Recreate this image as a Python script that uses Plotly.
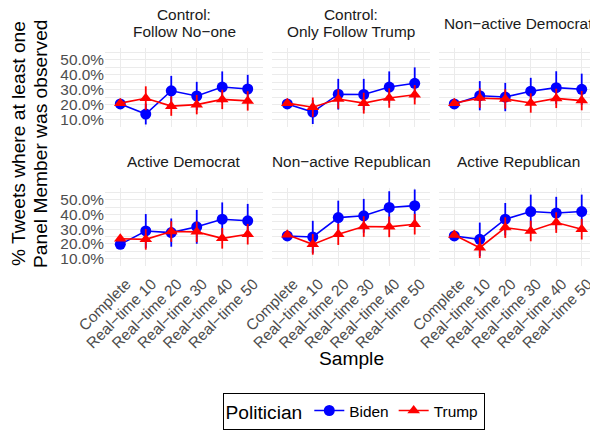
import plotly.graph_objects as go

# ---------------- data ----------------
samples = ["Complete", "Real−time 10", "Real−time 20", "Real−time 30", "Real−time 40", "Real−time 50"]
panels = [["Control:", "Follow No−one"], ["Control:", "Only Follow Trump"], ["Non−active Democrat"],
          ["Active Democrat"], ["Non−active Republican"], ["Active Republican"]]
y_title_lines = ["% Tweets where at least one", "Panel Member was observed"]
x_title = "Sample"

biden_followno = [0.205, 0.137, 0.293, 0.258, 0.318, 0.305]
biden_followno_err = [0, 0.07, 0.10, 0.095, 0.105, 0.095]
trump_followno = [0.21, 0.243, 0.19, 0.20, 0.235, 0.225]
trump_followno_err = [0, 0.08, 0.065, 0.065, 0.065, 0.065]

biden_onlytrump = [0.205, 0.15, 0.27, 0.268, 0.318, 0.343]
biden_onlytrump_err = [0, 0.08, 0.103, 0.105, 0.105, 0.107]
trump_onlytrump = [0.21, 0.183, 0.238, 0.21, 0.244, 0.266]
trump_onlytrump_err = [0, 0.065, 0.065, 0.07, 0.065, 0.065]

biden_nadem = [0.205, 0.26, 0.251, 0.29, 0.314, 0.303]
biden_nadem_err = [0, 0.098, 0.095, 0.09, 0.11, 0.105]
trump_nadem = [0.21, 0.244, 0.238, 0.211, 0.242, 0.227]
trump_nadem_err = [0, 0.065, 0.065, 0.065, 0.065, 0.065]

biden_adem = [0.197, 0.288, 0.277, 0.316, 0.368, 0.357]
biden_adem_err = [0, 0.115, 0.096, 0.115, 0.114, 0.115]
trump_adem = [0.235, 0.231, 0.284, 0.282, 0.238, 0.266]
trump_adem_err = [0, 0.07, 0.07, 0.07, 0.07, 0.07]

biden_narep = [0.254, 0.247, 0.379, 0.391, 0.448, 0.46]
biden_narep_err = [0, 0.11, 0.115, 0.115, 0.11, 0.11]
trump_narep = [0.262, 0.197, 0.265, 0.318, 0.316, 0.334]
trump_narep_err = [0, 0.07, 0.072, 0.07, 0.07, 0.07]

biden_arep = [0.254, 0.231, 0.368, 0.42, 0.41, 0.42]
biden_arep_err = [0, 0.114, 0.11, 0.115, 0.11, 0.115]
trump_arep = [0.26, 0.174, 0.311, 0.288, 0.345, 0.30]
trump_arep_err = [0, 0.07, 0.07, 0.07, 0.07, 0.07]

y_ticks = [0.1, 0.2, 0.3, 0.4, 0.5]

panel_data = [
    (biden_followno, biden_followno_err, trump_followno, trump_followno_err),
    (biden_onlytrump, biden_onlytrump_err, trump_onlytrump, trump_onlytrump_err),
    (biden_nadem, biden_nadem_err, trump_nadem, trump_nadem_err),
    (biden_adem, biden_adem_err, trump_adem, trump_adem_err),
    (biden_narep, biden_narep_err, trump_narep, trump_narep_err),
    (biden_arep, biden_arep_err, trump_arep, trump_arep_err),
]

# ---------------- layout ----------------
# page body has an 8px margin, so the figure is drawn 8px smaller and all
# target pixel positions are shifted by OFF
OFF = 8
W, H = 598 - OFF, 436 - OFF
col_px = [(105, 263), (272, 430), (439, 597)]
row_px = [(48, 127), (188, 266)]
strip_center_px = [23.3, 161.7]
STRIP_LINE = 16.7


def px(v):
    return (v - OFF) / W


def py(v):
    return 1 - (v - OFF) / H


FONT = "Liberation Sans, Arial, sans-serif"
BLUE = "#0000FF"
RED = "#FF0000"
GRID = "#ebebeb"

fig = go.Figure()
layout = dict(
    width=W, height=H,
    margin=dict(l=0, r=0, t=0, b=0, autoexpand=False),
    paper_bgcolor="white", plot_bgcolor="white",
    font=dict(family=FONT, color="black"),
    showlegend=True,
)
annotations = []

for i, (b, be, t, te) in enumerate(panel_data):
    r, c = divmod(i, 3)
    k = i + 1
    xa = "x" if k == 1 else f"x{k}"
    ya = "y" if k == 1 else f"y{k}"
    xname = "xaxis" if k == 1 else f"xaxis{k}"
    yname = "yaxis" if k == 1 else f"yaxis{k}"

    fig.add_trace(go.Scatter(
        x=samples, y=b, mode="lines+markers", name="Biden",
        legendgroup="Biden", showlegend=(i == 0),
        line=dict(color=BLUE, width=1.6),
        marker=dict(color=BLUE, size=11, symbol="circle"),
        error_y=dict(type="data", array=be, visible=True, color=BLUE, thickness=1.8, width=0),
        xaxis=xa, yaxis=ya, cliponaxis=False,
    ))
    fig.add_trace(go.Scatter(
        x=samples, y=t, mode="lines+markers", name="Trump",
        legendgroup="Trump", showlegend=(i == 0),
        line=dict(color=RED, width=1.6),
        marker=dict(color=RED, size=11, symbol="triangle-up"),
        error_y=dict(type="data", array=te, visible=True, color=RED, thickness=1.8, width=0),
        xaxis=xa, yaxis=ya, cliponaxis=False,
    ))

    x0, x1 = col_px[c]
    y0, y1 = row_px[r]
    layout[xname] = dict(
        domain=[px(x0), px(x1)], anchor=ya, automargin=False,
        type="category", categoryorder="array", categoryarray=samples,
        range=[-0.6, 5.6],
        showgrid=True, gridcolor=GRID, gridwidth=1.1,
        showline=False, zeroline=False, ticks="",
        tickangle=-45, showticklabels=(r == 1),
        ticklabelstandoff=5, ticklabelshift=6,
        tickfont=dict(size=15.4, color="#4d4d4d", family=FONT),
    )
    layout[yname] = dict(
        domain=[py(y1), py(y0)], anchor=xa, automargin=False,
        range=[0.05, 0.58],
        tickmode="array", tickvals=y_ticks, tickformat=".1%",
        showgrid=True, gridcolor=GRID, gridwidth=1.1,
        minor=dict(tickmode="linear", tick0=0.05, dtick=0.1, showgrid=True,
                   gridcolor=GRID, gridwidth=0.55),
        showline=False, zeroline=False, ticks="",
        showticklabels=(c == 0),
        tickfont=dict(size=15.4, color="#4d4d4d", family=FONT),
    )
    lines = panels[i]
    n = len(lines)
    for j, line in enumerate(lines):
        cy = strip_center_px[r] + (j - (n - 1) / 2) * STRIP_LINE
        annotations.append(dict(
            text=line, xref="paper", yref="paper",
            x=px((x0 + x1) / 2), y=py(cy),
            xanchor="center", yanchor="middle", showarrow=False,
            font=dict(size=15.4, color="#1a1a1a", family=FONT),
        ))

# axis titles
for j, (line, cx) in enumerate(zip(y_title_lines, [18, 40])):
    annotations.append(dict(
        text=line, xref="paper", yref="paper", x=px(cx), y=py(144),
        xanchor="center", yanchor="middle", textangle=-90, showarrow=False,
        font=dict(size=19.2, color="black", family=FONT),
    ))
annotations.append(dict(
    text=x_title, xref="paper", yref="paper", x=px(351), y=py(358),
    xanchor="center", yanchor="middle", showarrow=False,
    font=dict(size=19.2, color="black", family=FONT),
))

layout["annotations"] = annotations
layout["legend"] = dict(
    orientation="h", x=px(353.5), y=py(393), xanchor="center", yanchor="top",
    title=dict(text="Politician", side="left", font=dict(size=19.2, color="black", family=FONT)),
    font=dict(size=15.4, color="black", family=FONT),
    bordercolor="black", borderwidth=1, bgcolor="white",
)
fig.update_layout(**layout)
fig.write_html("out.html")
